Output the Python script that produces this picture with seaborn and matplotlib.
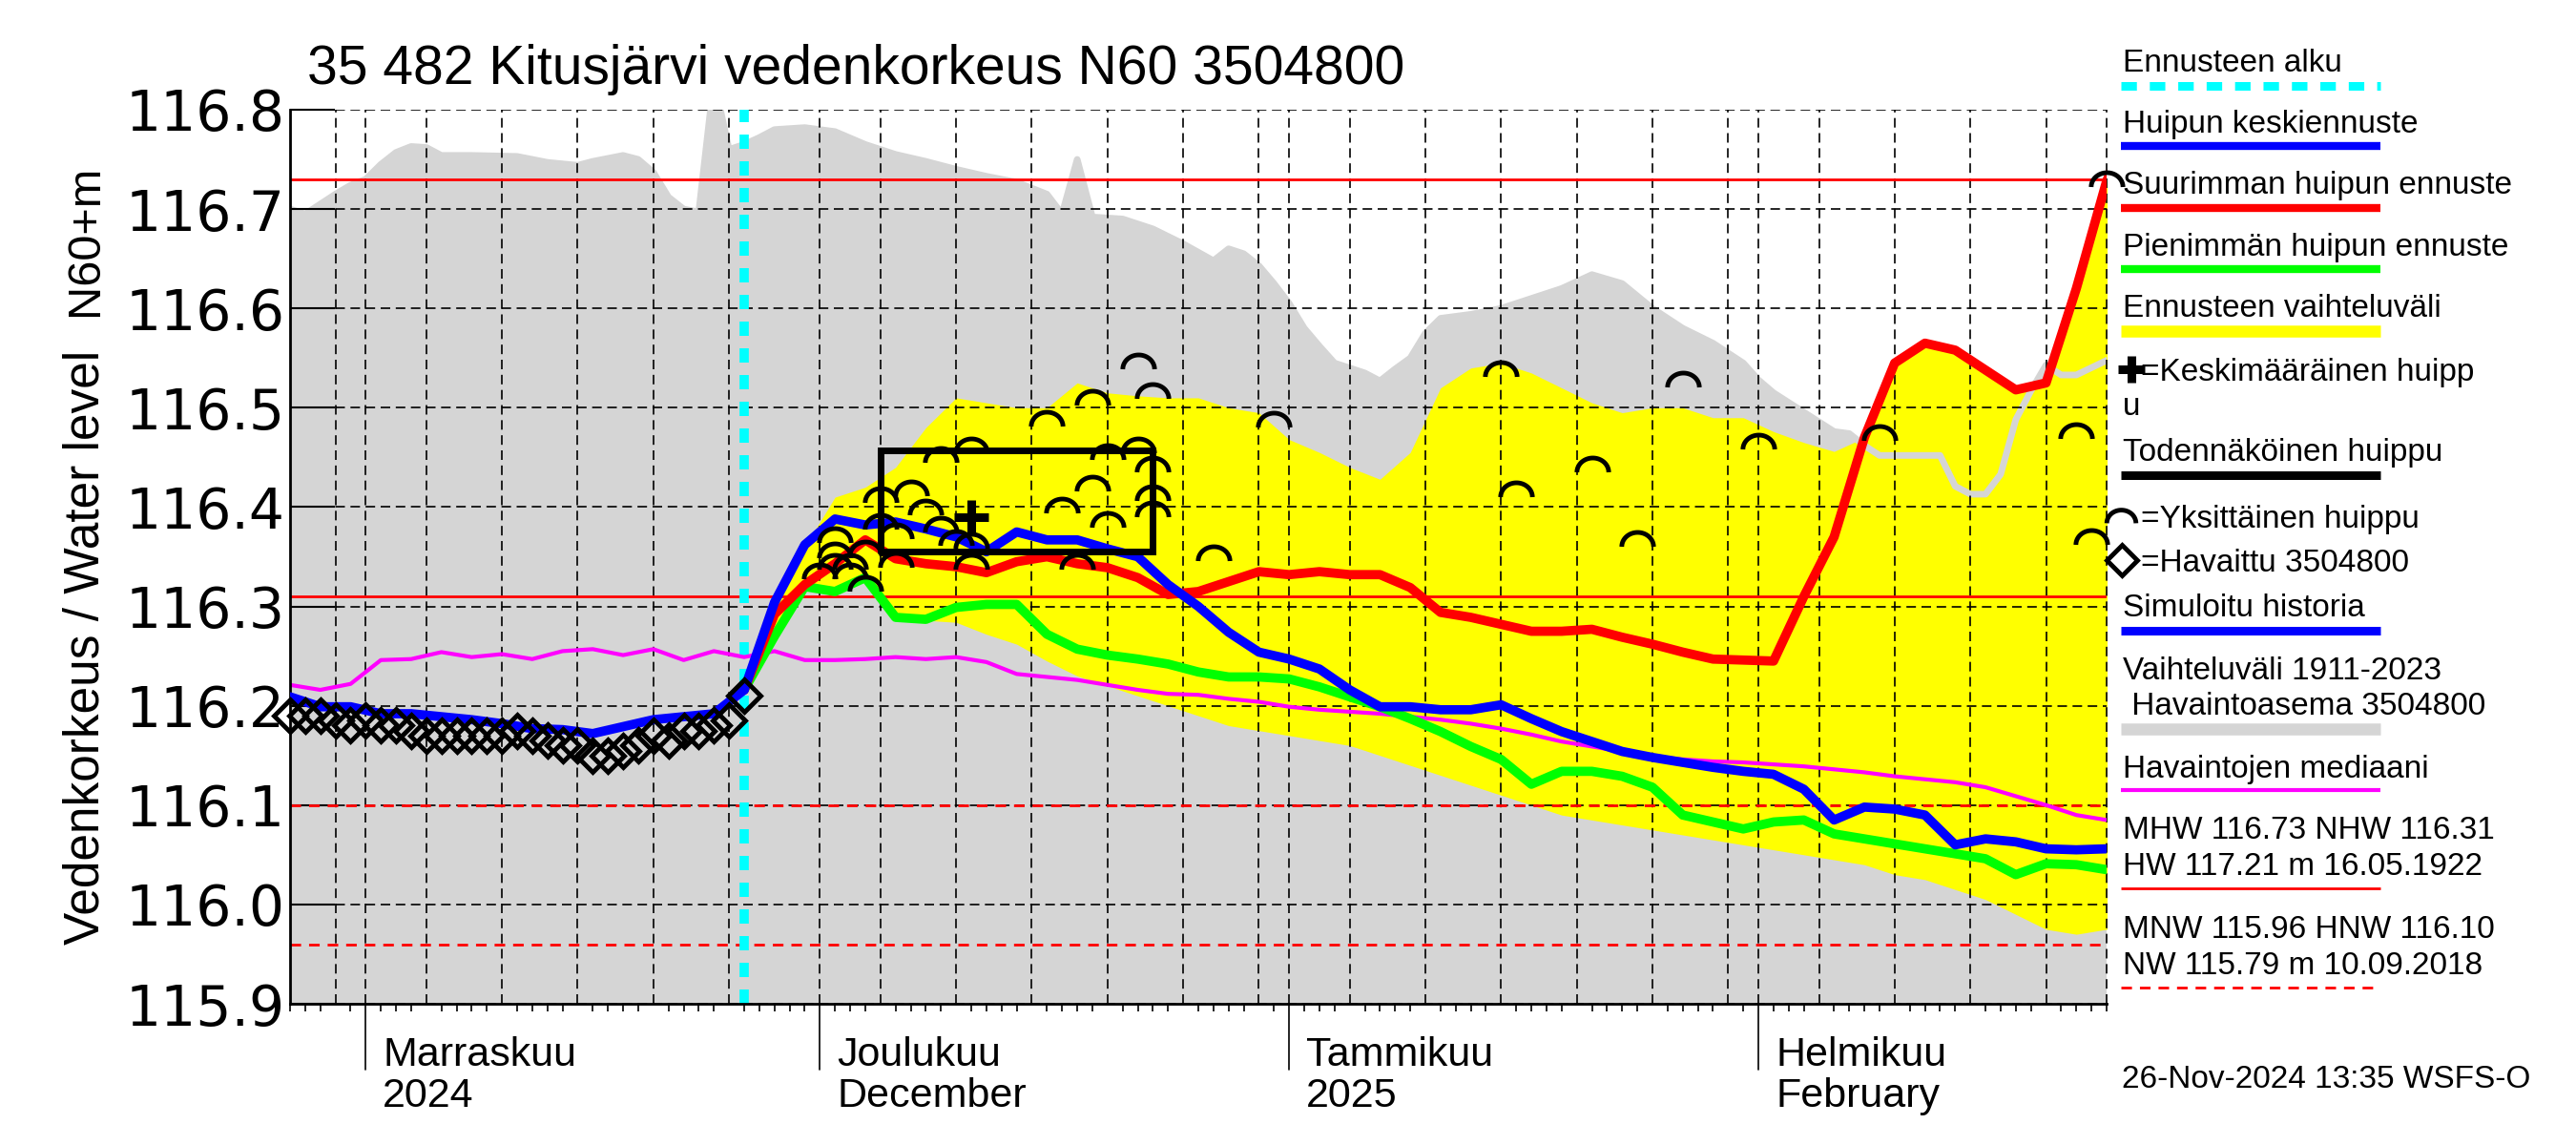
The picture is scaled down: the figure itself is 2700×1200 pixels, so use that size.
import numpy as np
import pandas as pd
import matplotlib
matplotlib.use("Agg")
from matplotlib import pyplot as plt
from matplotlib.path import Path
from matplotlib.lines import Line2D
import matplotlib.transforms as mtransforms
import matplotlib.dates as mdates
import seaborn as sns

# observed water level, daily from 27.10.2024
observed = [116.19, 116.19, 116.19, 116.185, 116.18, 116.185, 116.18, 116.18, 116.175, 116.17,
            116.17, 116.17, 116.17, 116.17, 116.17, 116.175, 116.17, 116.165, 116.16, 116.16,
            116.15, 116.15, 116.155, 116.16, 116.17, 116.165, 116.175, 116.175, 116.18, 116.185,
            116.21]

# simulated history, every 2nd day from 27.10.2024
sim_history = [116.209, 116.199, 116.199, 116.192, 116.192, 116.189, 116.186, 116.182,
               116.177, 116.176, 116.172, 116.179, 116.186, 116.189, 116.192, 116.216]

# forecasts, every 2nd day from 26.11.2024
forecast_mean = [116.216, 116.304, 116.362, 116.388, 116.382, 116.385, 116.378, 116.370, 116.355, 116.375,
                 116.367, 116.367, 116.358, 116.350, 116.322, 116.300, 116.274, 116.254, 116.247, 116.237,
                 116.216, 116.199, 116.199, 116.196, 116.196, 116.201, 116.187, 116.174, 116.164, 116.154,
                 116.148, 116.143, 116.138, 116.134, 116.131, 116.116, 116.085, 116.098, 116.096, 116.090,
                 116.060, 116.066, 116.063, 116.056, 116.055, 116.056, 116.055]
forecast_max = [116.216, 116.292, 116.322, 116.343, 116.367, 116.348, 116.343, 116.340, 116.334, 116.345,
                116.350, 116.343, 116.339, 116.329, 116.312, 116.315, 116.325, 116.335, 116.332, 116.335,
                116.332, 116.332, 116.319, 116.294, 116.289, 116.282, 116.275, 116.275, 116.277, 116.269,
                116.262, 116.254, 116.247, 116.246, 116.245, 116.310, 116.370, 116.470, 116.545, 116.565,
                116.558, 116.538, 116.518, 116.525, 116.620, 116.728, 116.800]
forecast_min = [116.216, 116.270, 116.320, 116.315, 116.329, 116.289, 116.287, 116.299, 116.302, 116.302,
                116.272, 116.257, 116.251, 116.247, 116.242, 116.234, 116.229, 116.229, 116.227, 116.219,
                116.209, 116.199, 116.187, 116.174, 116.159, 116.146, 116.121, 116.134, 116.134, 116.129,
                116.118, 116.090, 116.083, 116.076, 116.083, 116.085, 116.071, 116.066, 116.061, 116.056,
                116.051, 116.046, 116.030, 116.041, 116.040, 116.035, 116.033]
forecast_low = [116.216, 116.268, 116.318, 116.313, 116.327, 116.288, 116.286, 116.284, 116.272, 116.262,
                116.245, 116.230, 116.220, 116.210, 116.200, 116.190, 116.180, 116.175, 116.170, 116.165,
                116.160, 116.150, 116.140, 116.130, 116.120, 116.110, 116.100, 116.090, 116.085, 116.080,
                116.075, 116.070, 116.065, 116.060, 116.055, 116.050, 116.045, 116.040, 116.030, 116.025,
                116.015, 116.005, 115.990, 115.975, 115.970, 115.975, 115.975]
forecast_high = [116.216, 116.310, 116.360, 116.410, 116.420, 116.440, 116.480, 116.510, 116.505, 116.500,
                 116.500, 116.525, 116.515, 116.512, 116.510, 116.510, 116.500, 116.495, 116.468, 116.455,
                 116.440, 116.428, 116.455, 116.520, 116.540, 116.545, 116.535, 116.520, 116.505, 116.495,
                 116.500, 116.500, 116.490, 116.490, 116.476, 116.465, 116.456, 116.470, 116.545, 116.565,
                 116.558, 116.538, 116.518, 116.525, 116.620, 116.728, 116.800]

# median of observations, every 2nd day from 27.10.2024
obs_median = [116.221, 116.216, 116.222, 116.246, 116.247, 116.254, 116.249, 116.252, 116.247, 116.255,
              116.257, 116.251, 116.257, 116.246, 116.255, 116.249, 116.255, 116.246, 116.246, 116.247,
              116.249, 116.247, 116.249, 116.244, 116.232, 116.229, 116.226, 116.221, 116.216, 116.212,
              116.211, 116.207, 116.204, 116.199, 116.196, 116.194, 116.192, 116.189, 116.186, 116.182,
              116.177, 116.171, 116.164, 116.159, 116.154, 116.149, 116.146, 116.144, 116.143, 116.141,
              116.139, 116.136, 116.133, 116.129, 116.126, 116.123, 116.118, 116.109, 116.100, 116.090,
              116.085, 116.083]

# upper limit of the range 1911-2023
hist_max_dates = ["2024-10-27", "2024-10-28", "2024-10-29", "2024-10-30", "2024-10-31", "2024-11-01",
                  "2024-11-02", "2024-11-03", "2024-11-04", "2024-11-05", "2024-11-06", "2024-11-08",
                  "2024-11-11", "2024-11-13", "2024-11-15", "2024-11-16", "2024-11-18", "2024-11-19",
                  "2024-11-20", "2024-11-21", "2024-11-22", "2024-11-23", "2024-11-24", "2024-11-25",
                  "2024-11-26", "2024-11-27", "2024-11-28", "2024-11-30", "2024-12-02", "2024-12-04",
                  "2024-12-06", "2024-12-08", "2024-12-10", "2024-12-12", "2024-12-14", "2024-12-16",
                  "2024-12-17", "2024-12-18", "2024-12-19", "2024-12-21", "2024-12-23", "2024-12-25",
                  "2024-12-27", "2024-12-28", "2024-12-29", "2024-12-30", "2024-12-31", "2025-01-01",
                  "2025-01-02", "2025-01-03", "2025-01-04", "2025-01-06", "2025-01-07", "2025-01-08",
                  "2025-01-09", "2025-01-10", "2025-01-11", "2025-01-13", "2025-01-15", "2025-01-17",
                  "2025-01-19", "2025-01-21", "2025-01-23", "2025-01-25", "2025-01-27", "2025-01-29",
                  "2025-01-31", "2025-02-01", "2025-02-02", "2025-02-06", "2025-02-07", "2025-02-08",
                  "2025-02-09", "2025-02-13", "2025-02-14", "2025-02-15", "2025-02-16", "2025-02-17",
                  "2025-02-18", "2025-02-19", "2025-02-20", "2025-02-21", "2025-02-22", "2025-02-25"]
hist_max = [116.700, 116.695, 116.705, 116.715, 116.724, 116.730,
            116.745, 116.757, 116.763, 116.762, 116.754, 116.754,
            116.753, 116.747, 116.744, 116.748, 116.754, 116.750,
            116.737, 116.712, 116.700, 116.697, 116.830, 116.760,
            116.765, 116.772, 116.780, 116.782, 116.778, 116.765,
            116.755, 116.748, 116.740, 116.733, 116.727, 116.715,
            116.695, 116.750, 116.692, 116.690, 116.680, 116.665,
            116.648, 116.660, 116.655, 116.643, 116.625, 116.605,
            116.580, 116.562, 116.545, 116.535, 116.527, 116.539,
            116.550, 116.575, 116.590, 116.594, 116.600, 116.610,
            116.620, 116.634, 116.625, 116.600, 116.580, 116.565,
            116.545, 116.528, 116.515, 116.476, 116.474, 116.462,
            116.452, 116.452, 116.421, 116.413, 116.413, 116.433,
            116.488, 116.517, 116.543, 116.533, 116.533, 116.555]

# single peaks of the forecast members
peak_dates = ["2024-12-01", "2024-12-02", "2024-12-02", "2024-12-02", "2024-12-03", "2024-12-03",
              "2024-12-04", "2024-12-04", "2024-12-05", "2024-12-05", "2024-12-06", "2024-12-06",
              "2024-12-07", "2024-12-08", "2024-12-09", "2024-12-09", "2024-12-10", "2024-12-11",
              "2024-12-11", "2024-12-11", "2024-12-16", "2024-12-17", "2024-12-18", "2024-12-19",
              "2024-12-19", "2024-12-20", "2024-12-20", "2024-12-22", "2024-12-22", "2024-12-23",
              "2024-12-23", "2024-12-23", "2024-12-23", "2024-12-27", "2024-12-31", "2025-01-15",
              "2025-01-16", "2025-01-21", "2025-01-24", "2025-01-27", "2025-02-01", "2025-02-09",
              "2025-02-22", "2025-02-23", "2025-02-24"]
peak_levels = [116.335, 116.372, 116.356, 116.345, 116.345, 116.335,
               116.323, 116.358, 116.412, 116.385, 116.375, 116.347,
               116.419, 116.399, 116.382, 116.452, 116.369, 116.366,
               116.345, 116.462, 116.489, 116.401, 116.345, 116.510,
               116.423, 116.455, 116.387, 116.462, 116.546, 116.517,
               116.443, 116.414, 116.398, 116.353, 116.488, 116.539,
               116.418, 116.443, 116.368, 116.528, 116.466, 116.474,
               116.476, 116.370, 116.730]

mean_peak_date = "2024-12-11"
mean_peak_level = 116.39
likely_peak_dates = ["2024-12-05", "2024-12-23"]
likely_peak_levels = [116.355, 116.457]

MHW, NHW, HNW, MNW = 116.73, 116.31, 116.10, 115.96
forecast_start = "2024-11-26"
month_starts = ["2024-11-01", "2024-12-01", "2025-01-01", "2025-02-01"]
month_labels = ["Marraskuu\n2024", "Joulukuu\nDecember", "Tammikuu\n2025", "Helmikuu\nFebruary"]
y_ticks = [115.9, 116.0, 116.1, 116.2, 116.3, 116.4, 116.5, 116.6, 116.7, 116.8]

W, H = 2700, 1200
GRAY = "#d5d5d5"

sns.set_theme(style="white", rc={"axes.edgecolor": "black", "text.color": "black",
                                 "xtick.color": "black", "ytick.color": "black"})
plt.rcParams["font.family"] = ["Liberation Sans", "DejaVu Sans"]

obs_dates = pd.date_range("2024-10-27", periods=len(observed), freq="D")
sim_dates = pd.date_range("2024-10-27", periods=len(sim_history), freq="2D")
fc_dates = pd.date_range(forecast_start, periods=len(forecast_mean), freq="2D")
med_dates = pd.date_range("2024-10-27", periods=len(obs_median), freq="2D")
hist_dates = pd.to_datetime(hist_max_dates)
x_start, x_end = pd.Timestamp("2024-10-27"), pd.Timestamp("2025-02-24")

fig = plt.figure(figsize=(W / 100, H / 100), dpi=100)
ax = fig.add_axes([304 / W, 1 - 1052 / H, (2208 - 304) / W, (1052 - 115) / H])

# ranges
ax.fill_between(hist_dates, 115.5, hist_max, color=GRAY, lw=0, zorder=1)
ax.fill_between(fc_dates, forecast_low, forecast_high, color="#ffff00", lw=0, zorder=1.2)
sns.lineplot(x=hist_dates, y=hist_max, ax=ax, color=GRAY, linewidth=5, zorder=1.3)

# reference levels
for lev, ls in [(MHW, "-"), (NHW, "-"), (HNW, (0, (4, 3))), (MNW, (0, (4, 3)))]:
    ax.axhline(lev, color="red", lw=2, ls=ls, zorder=2)

ax.axvline(pd.Timestamp(forecast_start), color="#00ffff", lw=7, ls=(0, (1.54, 1.34)), zorder=2.1)

sns.lineplot(x=med_dates, y=obs_median, ax=ax, color="#ff00ff", linewidth=3, zorder=2.2)
sns.lineplot(x=fc_dates, y=forecast_min, ax=ax, color="#00ff00", linewidth=7, zorder=2.4)
sns.lineplot(x=fc_dates, y=forecast_max, ax=ax, color="#ff0000", linewidth=7, zorder=2.5)
sns.lineplot(x=fc_dates, y=forecast_mean, ax=ax, color="#0000ff", linewidth=7, zorder=2.6)
sns.lineplot(x=sim_dates, y=sim_history, ax=ax, color="#0000ff", linewidth=7, zorder=2.6)

# markers
t = np.linspace(0, np.pi, 40)
arc = Path(np.column_stack([np.cos(t), 0.9 * np.sin(t) - 0.45]))
ax.plot(pd.to_datetime(peak_dates), peak_levels, ls="none", marker=arc, ms=24,
        mfc="none", mec="black", mew=3.5, zorder=4, clip_on=False)
ax.plot(obs_dates, observed, ls="none", marker="D", ms=17, mfc="none", mec="black",
        mew=3.5, zorder=4, clip_on=False)
ax.plot([pd.Timestamp(mean_peak_date)], [mean_peak_level], ls="none", marker="+", ms=26,
        mec="black", mew=6.5, zorder=4.5)
bx = pd.to_datetime(likely_peak_dates)
ax.plot([bx[0], bx[1], bx[1], bx[0], bx[0]],
        [likely_peak_levels[0], likely_peak_levels[0], likely_peak_levels[1],
         likely_peak_levels[1], likely_peak_levels[0]],
        color="black", lw=5, zorder=4.2, solid_joinstyle="miter")

# axes
ax.set_xlim(x_start, x_end)
ax.set_ylim(115.9, 116.8)
ax.set_xlabel("")
ax.set_ylabel("")

all_days = pd.date_range(x_start, x_end, freq="D")
grid_days = [d for d in all_days
             if d.day in (1, 5, 10, 15, 20, 25) or (d.day == 30 and d.days_in_month == 31)]
ax.set_xticks(mdates.date2num(grid_days))
ax.set_xticks(mdates.date2num(all_days), minor=True)
ax.tick_params(axis="x", which="major", direction="out", length=24, width=1.2, labelbottom=False)
ax.tick_params(axis="x", which="minor", direction="out", length=6, width=1.2, bottom=True)
ax.set_yticks(y_ticks)
ax.set_yticklabels([f"{v:.1f}" for v in y_ticks], fontfamily="DejaVu Sans")
ax.tick_params(axis="y", direction="in", length=34, width=1.5, labelsize=42, pad=4, left=True)

ax.set_axisbelow("line")
ax.grid(True, which="major", axis="both", color="black", lw=1.2, ls=(0, (6, 3.5)))
ax.axvline(x_end, color="black", lw=1.2, ls=(0, (6, 3.5)), zorder=1.5, clip_on=False)

for side in ["top", "right"]:
    ax.spines[side].set_visible(False)
ax.spines["left"].set_linewidth(2)
ax.spines["bottom"].set_linewidth(2)

trans = mtransforms.blended_transform_factory(ax.transData, ax.transAxes)
ax_h = (1052 - 115)
lab_trans = mtransforms.offset_copy(trans, fig=fig, x=18, y=-34, units="dots")
for m, lab in zip(month_starts, month_labels):
    xm = mdates.date2num(pd.Timestamp(m))
    ax.add_line(Line2D([xm, xm], [0, -69 / ax_h], transform=trans, color="black",
                       lw=1.2, clip_on=False))
    ax.text(xm, 0, lab, transform=lab_trans, ha="left", va="top", fontsize=31, linespacing=1.1)

# titles
fig.text(322 / W, 1 - 88 / H, "35 482 Kitusjärvi vedenkorkeus N60 3504800",
         fontsize=41, ha="left", va="baseline")
fig.text(90 / W, 1 - 678 / H, "Vedenkorkeus / Water level", rotation=90, fontsize=37,
         ha="center", va="center")
fig.text(90 / W, 1 - 252 / H, "N60+m", rotation=90, fontsize=35, ha="center", va="center")

# legend
lx0, lx1, tx = 2223, 2495, 2225
LEG_FS = 24


def leg_text(y, s, x=tx):
    fig.text(x / W, 1 - y / H, s, fontsize=LEG_FS, ha="left", va="baseline")


def leg_line(y, color, lw, ls="-"):
    fig.add_artist(Line2D([lx0 / W, lx1 / W], [1 - y / H, 1 - y / H], transform=fig.transFigure,
                          color=color, lw=lw, ls=ls, solid_capstyle="butt"))


def leg_marker(x, y, **kw):
    fig.add_artist(Line2D([x / W], [1 - y / H], transform=fig.transFigure, ls="none", **kw))


leg_text(75, "Ennusteen alku")
leg_line(90, "#00ffff", 6.5, (0, (1.8, 1.5)))
leg_text(139, "Huipun keskiennuste")
leg_line(153, "#0000ff", 6)
leg_text(203, "Suurimman huipun ennuste")
leg_line(218, "#ff0000", 6)
leg_text(268, "Pienimmän huipun ennuste")
leg_line(282, "#00ff00", 6)
leg_text(332, "Ennusteen vaihteluväli")
leg_line(347, "#ffff00", 9)
leg_marker(2234, 387, marker="+", ms=20, mec="black", mew=6.5)
leg_text(399, "=Keskimääräinen huipp", x=2244)
leg_text(435, "u")
leg_text(483, "Todennäköinen huippu")
leg_line(498, "black", 6.5)
leg_marker(2223, 541, marker=arc, ms=22, mfc="none", mec="black", mew=3.5)
leg_text(553, "=Yksittäinen huippu", x=2244)
leg_marker(2224, 587, marker="D", ms=16, mfc="none", mec="black", mew=3.5)
leg_text(599, "=Havaittu 3504800", x=2244)
leg_text(646, "Simuloitu historia")
leg_line(661, "#0000ff", 6.5)
leg_text(712, "Vaihteluväli 1911-2023")
leg_text(749, " Havaintoasema 3504800")
leg_line(764, GRAY, 9)
leg_text(815, "Havaintojen mediaani")
leg_line(828, "#ff00ff", 3)
leg_text(879, "MHW 116.73 NHW 116.31")
leg_text(917, "HW 117.21 m 16.05.1922")
leg_line(931, "red", 2)
leg_text(983, "MNW 115.96 HNW 116.10")
leg_text(1021, "NW 115.79 m 10.09.2018")
leg_line(1035, "red", 2, (0, (4, 3)))
leg_text(1140, "26-Nov-2024 13:35 WSFS-O", x=2224)

fig.savefig("out.png", dpi=100)
